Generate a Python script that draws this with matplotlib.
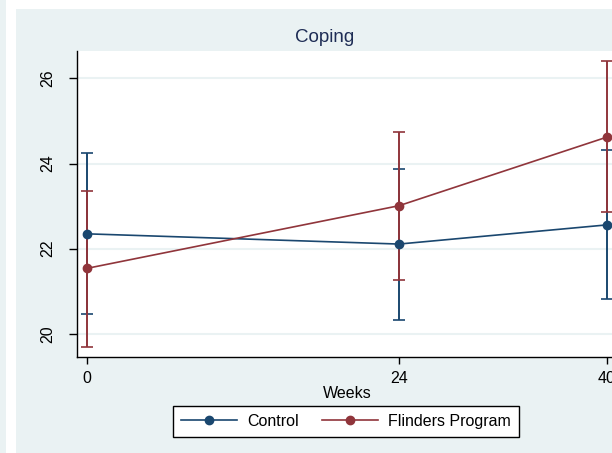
import matplotlib
matplotlib.use("Agg")
import matplotlib.pyplot as plt
from matplotlib.patches import Rectangle

plt.rcParams['font.family'] = ['Liberation Sans', 'DejaVu Sans']

# mean coping score with 95% CI at each visit
weeks = [0, 24, 40]
control_mean = [22.35, 22.11, 22.56]
control_lo = [20.47, 20.33, 20.81]
control_hi = [24.25, 23.88, 24.32]
flinders_mean = [21.54, 23.01, 24.62]
flinders_lo = [19.69, 21.27, 22.86]
flinders_hi = [23.36, 24.75, 26.41]
yticks = [20, 22, 24, 26]

navy = '#1a476f'
maroon = '#90353b'
bg = '#eaf2f3'

W, H = 612, 453
fig = plt.figure(figsize=(W / 100, H / 100), dpi=100, facecolor='white')

# graph region backgrounds
fig.patches.append(Rectangle((0, 0), 6 / W, 1, transform=fig.transFigure,
                             facecolor=bg, edgecolor='none', zorder=-5))
fig.patches.append(Rectangle((16 / W, 0), 1 - 16 / W, (H - 9) / H,
                             transform=fig.transFigure, facecolor=bg,
                             edgecolor='none', zorder=-5))

ax = fig.add_axes([77 / W, (H - 357) / H, 540 / W, 306 / H])
ax.set_zorder(1)
ax.set_facecolor('white')


def draw(x, mean, lo, hi, color, label):
    yerr = [[m - l for m, l in zip(mean, lo)], [h - m for m, h in zip(mean, hi)]]
    ax.errorbar(x, mean, yerr=yerr, fmt='none', ecolor=color, elinewidth=1.4,
                capsize=4, capthick=1.2, zorder=3)
    ax.plot(x, mean, color=color, lw=1.2, marker='o', ms=6, label=label, zorder=4)


draw(weeks, control_mean, control_lo, control_hi, navy, 'Control')
draw(weeks, flinders_mean, flinders_lo, flinders_hi, maroon, 'Flinders Program')

ax.set_xlim(-0.77, 40.77)
ax.set_ylim(19.46, 26.64)
ax.set_xticks(weeks)
ax.set_yticks(yticks)
ax.tick_params(axis='y', labelrotation=90, length=6, width=1, pad=10, labelsize=11.5)
ax.tick_params(axis='x', length=5, width=1, pad=5, labelsize=11.5)
for lab in ax.get_yticklabels():
    lab.set_va('center')
ax.grid(axis='y', color=bg, lw=1.5)
ax.set_axisbelow(True)
for s in ['top', 'right']:
    ax.spines[s].set_visible(False)
for s in ['left', 'bottom']:
    ax.spines[s].set_linewidth(1)
ax.set_xlabel('Weeks', fontsize=11.5, labelpad=0)

fig.text(325 / W, (H - 38) / H, 'Coping', ha='center', va='center',
         fontsize=13.5, color='#1e2d55')

leg = fig.legend(loc='center', bbox_to_anchor=(346 / W, (H - 421.5) / H),
                 ncol=2, frameon=True, fancybox=False, fontsize=11.5,
                 handlelength=3.5, handletextpad=0.6, columnspacing=1.5,
                 borderpad=0.5, edgecolor='black', framealpha=1)
leg.get_frame().set_linewidth(1)

fig.savefig('out.png', dpi=100, facecolor=fig.get_facecolor())
